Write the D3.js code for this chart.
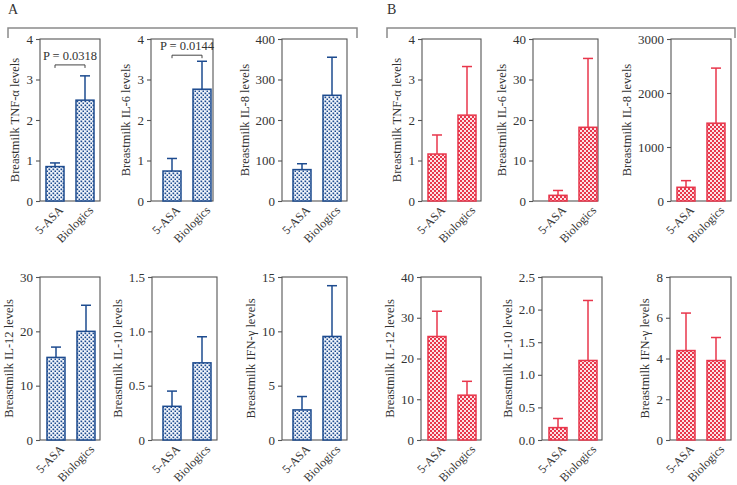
<!DOCTYPE html>
<html><head><meta charset="utf-8">
<script src="https://cdn.jsdelivr.net/npm/d3@7"></script>
<style>body{margin:0;background:#fff}svg text{font-family:"Liberation Serif","Times New Roman",Times,serif !important}</style>
</head><body><svg id="c" width="737" height="485"></svg>
<script>
const groups = ["5-ASA", "Biologics"];
const cytokines = ["TNF-α", "IL-6", "IL-8", "IL-12", "IL-10", "IFN-γ"];
const meanA  = [[0.85, 2.49], [0.74, 2.76], [77.5, 261], [15.2, 20.0], [0.31, 0.71], [2.77, 9.53]];
const upperA = [[0.94, 3.09], [1.05, 3.45], [92, 355],   [17.1, 24.8], [0.45, 0.95], [4.0, 14.2]];
const meanB  = [[1.16, 2.12], [1.4, 18.2], [254, 1441], [25.4, 11.0], [0.19, 1.22], [4.39, 3.9]];
const upperB = [[1.63, 3.32], [2.6, 35.2], [377, 2461], [31.6, 14.4], [0.33, 2.14], [6.23, 5.03]];
const ticksA = [[0,1,2,3,4],[0,1,2,3,4],[0,100,200,300,400],[0,10,20,30],[0,0.5,1.0,1.5],[0,5,10,15]];
const tickLabelsA = [["0","1","2","3","4"],["0","1","2","3","4"],["0","100","200","300","400"],["0","10","20","30"],["0","0.5","1.0","1.5"],["0","5","10","15"]];
const ticksB = [[0,1,2,3,4],[0,10,20,30,40],[0,1000,2000,3000],[0,10,20,30,40],[0,0.5,1.0,1.5,2.0,2.5],[0,2,4,6,8]];
const tickLabelsB = [["0","1","2","3","4"],["0","10","20","30","40"],["0","1000","2000","3000"],["0","10","20","30","40"],["0.0","0.5","1.0","1.5","2.0","2.5"],["0","2","4","6","8"]];
const pTextA = ["P = 0.0318", "P = 0.0144", null, null, null, null];
const pBracketA = [3.36, 3.6, null, null, null, null];
const pTextB = [null, null, null, null, null, null];
const pBracketB = [null, null, null, null, null, null];
const panelLabels = ["A", "B"];

// layout: [axisX, rightX, topY, bottomY, firstBarLeft]
const framesA = [[40,100,39,201,46],[151,213,39,201,163],[282,347,39,201,293],
                 [40,100,277,440,47],[152,217,277,440,163],[282,347,277,440,293]];
const framesB = [[422,481,39,201,428],[533,598,39,201,549],[671,731,39,201,677],
                 [421,481,277,440,428],[542,602,277,440,549],[670,731,277,440,677]];

const FONT = "Liberation Serif, Times New Roman, serif";
const FS = 13, FSY = 12.5, FSX = 12;
const svg = d3.select("#c");
const defs = svg.append("defs");

// patterns
const pb = defs.append("pattern").attr("id","patA").attr("patternUnits","userSpaceOnUse")
  .attr("width",4).attr("height",4);
pb.append("rect").attr("width",4).attr("height",4).attr("fill","#f2f5fb");
pb.append("rect").attr("x",0.5).attr("y",0.5).attr("width",1.7).attr("height",1.7).attr("fill","#1d4b8f");
pb.append("rect").attr("x",2.5).attr("y",2.5).attr("width",1.7).attr("height",1.7).attr("fill","#1d4b8f");
const pr = defs.append("pattern").attr("id","patB").attr("patternUnits","userSpaceOnUse")
  .attr("width",4).attr("height",4);
pr.append("rect").attr("width",4).attr("height",4).attr("fill","#fbe3e6");
pr.append("rect").attr("x",0).attr("y",0).attr("width",2).attr("height",2).attr("fill","#e8364b");
pr.append("rect").attr("x",2).attr("y",2).attr("width",2).attr("height",2).attr("fill","#e8364b");

const textColor = "#333";

function drawPanel(frames, means, uppers, ticks, tickLabels, pTexts, pBrackets, color, patId) {
  frames.forEach((f, i) => {
    const [x0, x1, yT, yB, bl] = f;
    const g = svg.append("g").attr("font-family", FONT);
    const yMax = ticks[i][ticks[i].length - 1];
    const y = d3.scaleLinear().domain([0, yMax]).range([yB, yT]);
    const x = d3.scaleBand().domain(groups).range([bl - 6, bl + 54]).paddingInner(0.4).paddingOuter(0.2);

    // frame
    g.append("rect").attr("x", x0).attr("y", yT).attr("width", x1 - x0).attr("height", yB - yT)
      .attr("fill", "none").attr("stroke", "#555").attr("stroke-width", 1.1);

    // axis
    const ax = g.append("g").attr("transform", `translate(${x0},0)`)
      .call(d3.axisLeft(y).tickValues(ticks[i]).tickFormat((d, k) => tickLabels[i][k]).tickSize(4).tickPadding(3));
    ax.attr("font-family", FONT).attr("font-size", FS);
    ax.select(".domain").remove();
    ax.selectAll("line").attr("stroke", "#555").attr("stroke-width", 1.1);
    ax.selectAll("text").attr("fill", textColor);
    let maxW = 0;
    ax.selectAll("text").each(function(){ maxW = Math.max(maxW, this.getBBox().width); });

    // y label
    const lx = x0 - 7 - maxW - 11;
    g.append("text").attr("transform", `translate(${lx},${(yT + yB) / 2}) rotate(-90)`)
      .attr("text-anchor", "middle").attr("dy", "0.35em")
      .attr("font-size", FSY).attr("fill", textColor)
      .text("Breastmilk " + cytokines[i] + " levels");

    // bars
    groups.forEach((gr, j) => {
      const bx = x(gr), bw = x.bandwidth(), cx = bx + bw / 2;
      const m = means[i][j], u = uppers[i][j];
      g.append("line").attr("x1", cx).attr("x2", cx).attr("y1", y(m)).attr("y2", y(u))
        .attr("stroke", color).attr("stroke-width", 1.5);
      g.append("line").attr("x1", cx - 5).attr("x2", cx + 5).attr("y1", y(u)).attr("y2", y(u))
        .attr("stroke", color).attr("stroke-width", 1.5);
      g.append("rect").attr("x", bx).attr("y", y(m)).attr("width", bw).attr("height", y(0) - y(m))
        .attr("fill", `url(#${patId})`).attr("stroke", color).attr("stroke-width", 1.5);
      // x label
      g.append("text").attr("transform", `translate(${cx + 3},${yB + 4}) rotate(-45)`)
        .attr("text-anchor", "end").attr("dy", "0.7em")
        .attr("font-size", FSX).attr("fill", textColor).text(gr);
    });

    // p-value bracket
    if (pTexts[i]) {
      const c1 = x(groups[0]) + x.bandwidth() / 2, c2 = x(groups[1]) + x.bandwidth() / 2;
      const by = y(pBrackets[i]);
      g.append("path").attr("d", `M${c1},${by + 3}V${by}H${c2}V${by + 3}`)
        .attr("fill", "none").attr("stroke", "#444").attr("stroke-width", 1);
      g.append("text").attr("x", (c1 + c2) / 2).attr("y", by - 5).attr("text-anchor", "middle")
        .attr("font-size", FSY).attr("fill", textColor).text(pTexts[i]);
    }
  });
}

drawPanel(framesA, meanA, upperA, ticksA, tickLabelsA, pTextA, pBracketA, "#1d4b8f", "patA");
drawPanel(framesB, meanB, upperB, ticksB, tickLabelsB, pTextB, pBracketB, "#e8364b", "patB");

// panel brackets & labels
const brackets = [[8, 357], [387, 735]];
brackets.forEach((b, k) => {
  svg.append("path").attr("d", `M${b[0]},38V28H${b[1]}V38`).attr("fill", "none")
    .attr("stroke", "#8a8a8a").attr("stroke-width", 1.5);
  svg.append("text").attr("x", b[0]).attr("y", 14).attr("font-size", 14).attr("fill", textColor)
    .attr("font-family", FONT).text(panelLabels[k]);
});
</script></body></html>
